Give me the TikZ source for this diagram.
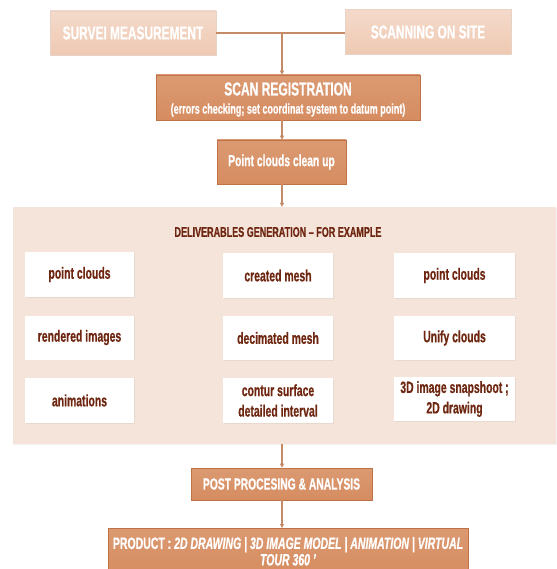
\documentclass[tikz,border=0pt]{standalone}
\usepackage{fontspec}
\setmainfont{Liberation Sans}[FakeStretch=0.64, BoldFeatures={FakeBold=0.6}, BoldItalicFeatures={FakeBold=0.6}]
\usetikzlibrary{arrows.meta,shadows}
\definecolor{lightbox}{HTML}{EFC9B2}
\definecolor{lightboxtop}{HTML}{F4DACB}
\definecolor{darkbox}{HTML}{D68C60}
\definecolor{darkboxtop}{HTML}{DB9A72}
\definecolor{darkedge}{HTML}{BF7248}
\definecolor{panelbg}{HTML}{F4E4DA}
\definecolor{browntext}{HTML}{6E2610}
\definecolor{linecol}{HTML}{C58A66}
\tikzset{
  lightnode/.style={draw=lightbox!90!black!60, line width=0.4pt, top color=lightboxtop, bottom color=lightbox, text=white, font=\bfseries\fontsize{18.6}{20}\selectfont, align=center, inner sep=0pt},
  darknode/.style={draw=darkedge, line width=0.6pt, top color=darkboxtop, bottom color=darkbox, text=white, font=\bfseries, align=center, inner sep=0pt, drop shadow={opacity=0.18, shadow xshift=1pt, shadow yshift=-1pt}},
  cell/.style={fill=white, draw=none, text=browntext, font=\bfseries\fontsize{16.3}{20.5}\selectfont, align=center, inner sep=0pt, drop shadow={opacity=0.10, shadow xshift=0.8pt, shadow yshift=-0.8pt}},
  conn/.style={draw=linecol, line width=1.1pt},
  arr/.style={conn, -{Triangle[length=4pt,width=4pt]}},
}
\begin{document}
\begin{tikzpicture}[x=1pt,y=-1pt]
\useasboundingbox (0,0) rectangle (556,569);
% top boxes
\node[lightnode, minimum width=166pt, minimum height=44pt] (sur) at (133,33) {SURVEI MEASUREMENT};
\node[lightnode, minimum width=166pt, minimum height=45pt] (scan) at (428,32) {SCANNING ON SITE};
\coordinate (j) at (282,33);
\draw[conn] (sur.east |- j) -- (scan.west |- j);
% scan registration
\node[darknode, minimum width=264pt, minimum height=45pt] (reg) at (288,97.5) {};
\node[text=white, font=\bfseries\fontsize{18.8}{21}\selectfont] (regt) at (288,89) {SCAN REGISTRATION};
\node[text=white, font=\bfseries\fontsize{14.1}{16}\selectfont] (regs) at (288,110) {(errors checking; set coordinat system to datum point)};
\draw[arr] (j) -- (j |- reg.north);
\node[darknode, minimum width=129pt, minimum height=44pt, font=\bfseries\fontsize{16.1}{18}\selectfont] (clean) at (281.5,162) {Point clouds clean up};
\draw[arr] (j |- reg.south) -- (j |- clean.north);
% panel
\node[fill=panelbg, draw=none, minimum width=543pt, minimum height=237pt, inner sep=0pt, drop shadow={opacity=0.10, shadow xshift=0.8pt, shadow yshift=-0.8pt}] (panel) at (284.5,325.5) {};
\draw[arr] (j |- clean.south) -- (j |- panel.north);
\node[text=browntext, font=\bfseries\fontsize{14.1}{16}\selectfont] (head) at (278,232) {DELIVERABLES GENERATION -- FOR EXAMPLE};
% cells
\node[cell, minimum width=109pt, minimum height=45pt] (a1) at (79.5,274.5) {point clouds};
\node[cell, minimum width=109pt, minimum height=44pt] (a2) at (79.5,337.5) {rendered images};
\node[cell, minimum width=109pt, minimum height=45pt] (a3) at (79.5,400.5) {animations};
\node[cell, minimum width=110pt, minimum height=45pt] (b1) at (278,275.5) {created mesh};
\node[cell, minimum width=110pt, minimum height=44pt] (b2) at (278,338) {decimated mesh};
\node[cell, minimum width=110pt, minimum height=45pt] (b3) at (278,400.5) {contur surface\\detailed interval};
\node[cell, minimum width=121pt, minimum height=45pt] (c1) at (454.5,275.5) {point clouds};
\node[cell, minimum width=121pt, minimum height=44pt] (c2) at (454.5,338) {Unify clouds};
\node[cell, minimum width=121pt, minimum height=44pt] (c3) at (454.5,399) {3D image snapshoot ;\\2D drawing};
% post processing
\node[darknode, minimum width=181pt, minimum height=32pt, font=\bfseries\fontsize{16.1}{18}\selectfont] (post) at (281.5,484) {POST PROCESING \& ANALYSIS};
\draw[arr] (j |- panel.south) -- (j |- post.north);
\node[darknode, minimum width=360pt, minimum height=46pt, font=\bfseries\fontsize{16.4}{16.5}\selectfont, anchor=north] (prod) at (288,528)
  {PRODUCT : \textit{2D DRAWING | 3D IMAGE MODEL | ANIMATION | VIRTUAL}\\\textit{TOUR 360 '}};
\draw[arr] (j |- post.south) -- (j |- prod.north);
\end{tikzpicture}
\end{document}
